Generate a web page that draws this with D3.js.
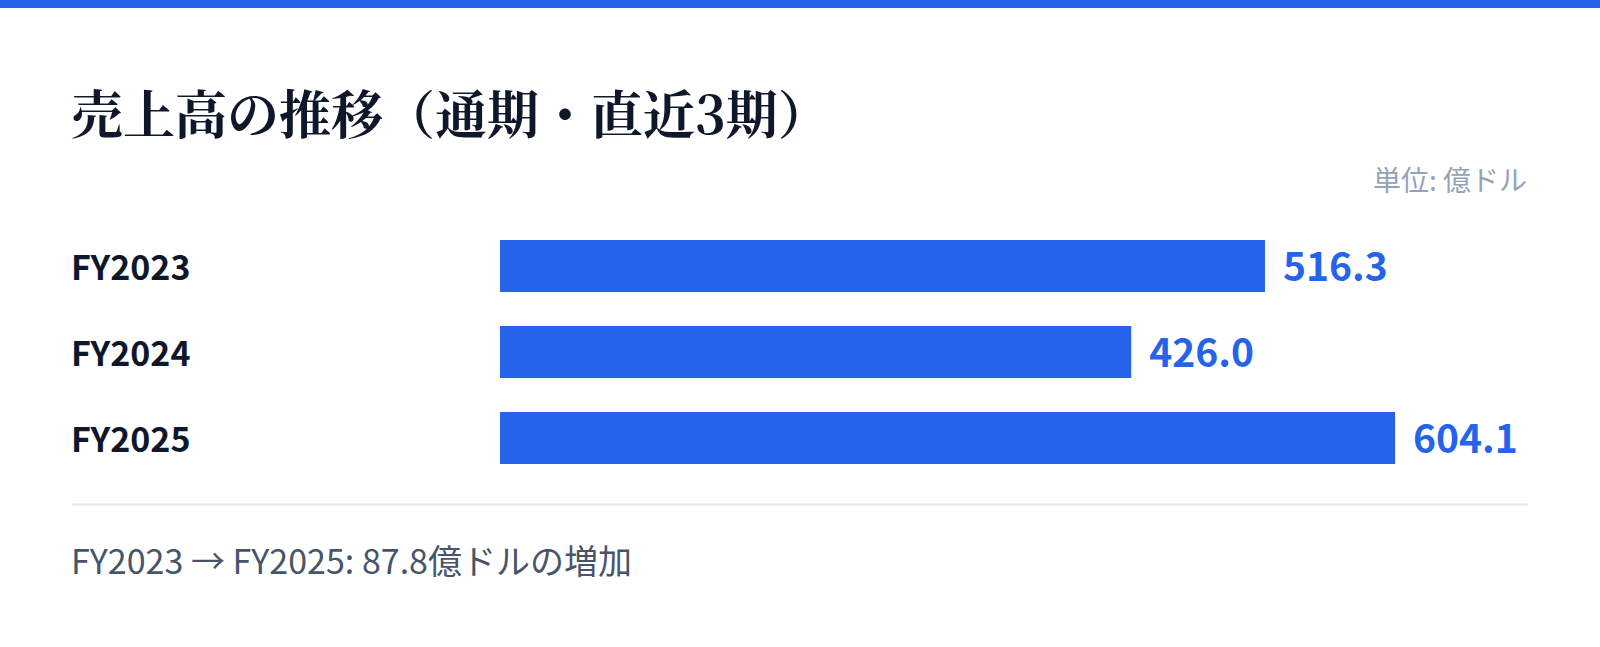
<!DOCTYPE html>
<html lang="ja">
<head>
<meta charset="utf-8">
<script src="https://cdn.jsdelivr.net/npm/d3@7"></script>
<style>
  html, body { margin: 0; padding: 0; background: #fff; }
  svg { display: block; }
</style>
</head>
<body>
<div id="chart"></div>
<script>
// data
var years = ["FY2023", "FY2024", "FY2025"];
var sales = [516.3, 426.0, 604.1];
var titleText = "売上高の推移（通期・直近3期）";
var unitText = "単位: 億ドル";
var footerText = "FY2023 → FY2025: 87.8億ドルの増加";

var W = 1600, H = 647;
var font = "'Noto Sans CJK JP', 'Noto Sans', sans-serif";

var svg = d3.select("#chart")
  .append("svg")
    .attr("width", W)
    .attr("height", H);

// top accent strip
svg.append("rect")
  .attr("x", 0).attr("y", 0)
  .attr("width", W).attr("height", 8)
  .style("fill", "#2563eb");

// title
svg.append("text")
  .attr("x", 71)
  .attr("y", 134)
  .style("font-family", "'Noto Serif CJK JP', " + font)
  .style("font-weight", 700)
  .style("font-size", "52px")
  .style("fill", "#0f172a")
  .text(titleText);

// unit label
svg.append("text")
  .attr("x", 1527)
  .attr("y", 191)
  .style("text-anchor", "end")
  .style("font-family", font)
  .style("font-size", "28px")
  .style("fill", "#94a3b8")
  .text(unitText);

// scales
var x = d3.scaleLinear()
  .domain([0, d3.max(sales) / 0.8707])
  .range([500, 1528]);

var y = d3.scaleBand()
  .domain(years)
  .range([240, 464])
  .paddingInner(34 / 86)
  .paddingOuter(0);

var rows = years.map(function (d, i) { return {year: d, value: sales[i]}; });

// bars
svg.append("g")
  .selectAll("rect")
  .data(rows)
  .enter()
  .append("rect")
    .attr("x", x(0))
    .attr("y", function (d) { return y(d.year); })
    .attr("width", function (d) { return x(d.value) - x(0); })
    .attr("height", y.bandwidth())
    .style("fill", "#2563eb");

// category labels
svg.append("g")
  .selectAll("text")
  .data(rows)
  .enter()
  .append("text")
    .attr("x", 71)
    .attr("y", function (d) { return y(d.year) + y.bandwidth() / 2 + 14; })
    .style("font-family", font)
    .style("font-weight", 700)
    .style("font-size", "34px")
    .style("fill", "#0f172a")
    .text(function (d) { return d.year; });

// value labels
svg.append("g")
  .selectAll("text")
  .data(rows)
  .enter()
  .append("text")
    .attr("x", function (d) { return x(d.value) + 18; })
    .attr("y", function (d) { return y(d.year) + y.bandwidth() / 2 + 15; })
    .style("font-family", font)
    .style("font-weight", 700)
    .style("font-size", "39px")
    .style("fill", "#2563eb")
    .text(function (d) { return d3.format(".1f")(d.value); });

// divider
svg.append("line")
  .attr("x1", 72).attr("x2", 1528)
  .attr("y1", 504.5).attr("y2", 504.5)
  .style("stroke", "#e2e8f0")
  .style("stroke-width", 2);

// footer note
svg.append("text")
  .attr("x", 71)
  .attr("y", 574)
  .style("font-family", font)
  .style("font-size", "34px")
  .style("fill", "#475569")
  .text(footerText);
</script>
</body>
</html>
